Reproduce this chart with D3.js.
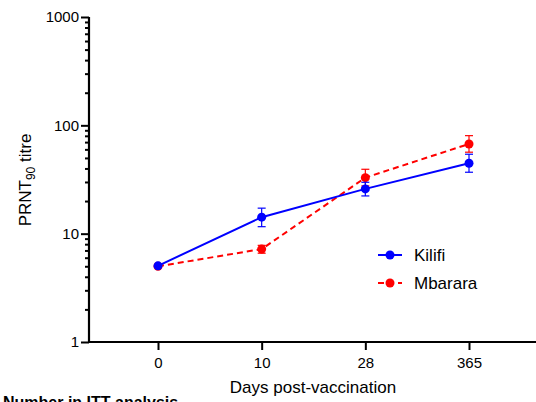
<!DOCTYPE html>
<html>
<head>
<meta charset="utf-8">
<script src="https://cdn.jsdelivr.net/npm/d3@7"></script>
<style>
  html, body { margin: 0; padding: 0; background: #fff; }
  svg { display: block; font-family: "Liberation Sans", Arial, sans-serif; }
</style>
</head>
<body>
<svg id="chart" width="536" height="402"></svg>
<script>
// Time points (days post-vaccination), drawn as evenly spaced categories
const days = ["0", "10", "28", "365"];

// Geometric mean PRNT90 titres with 95% CI bounds
const kilifiGMT   = [5.05, 14.2, 25.9, 44.7];
const kilifiLow   = [5.0, 11.6, 22.3, 36.9];
const kilifiHigh  = [5.1, 17.2, 29.8, 54.1];

const mbararaGMT  = [5.0, 7.2, 32.9, 67.3];
const mbararaLow  = [4.95, 6.6, 27.6, 56.5];
const mbararaHigh = [5.05, 7.8, 39.3, 80.3];

const yTicks = [1, 10, 100, 1000];

const series = [
  { name: "Kilifi",  color: "#0000ff", dash: null,  mean: kilifiGMT,  lo: kilifiLow,  hi: kilifiHigh },
  { name: "Mbarara", color: "#ff0000", dash: "6,4", mean: mbararaGMT, lo: mbararaLow, hi: mbararaHigh }
];

const svg = d3.select("#chart");
const plotLeft = 89, plotTop = 17, plotBottom = 342;

const x = d3.scalePoint().domain(days).range([158, 469]);
const y = d3.scaleLog().domain([1, 1000]).range([plotBottom, plotTop]);

// Y axis: major ticks at decades, minor ticks at 2..9
const minor = [];
for (let d = 1; d < 1000; d *= 10) for (let k = 2; k <= 9; k++) minor.push(d * k);

const yAxis = svg.append("g").attr("transform", `translate(${plotLeft},0)`);
yAxis.append("g")
  .call(d3.axisLeft(y).tickValues(minor).tickSize(4).tickFormat(""))
  .call(g => g.select(".domain").remove());
yAxis.append("g")
  .call(d3.axisLeft(y).tickValues(yTicks).tickSize(8).tickPadding(2).tickFormat(d3.format("d")))
  .call(g => g.select(".domain").attr("d", `M0,${plotTop}V${plotBottom}`));
yAxis.selectAll("line").attr("stroke", "#000").attr("stroke-width", 2);
yAxis.selectAll(".domain").attr("stroke", "#000").attr("stroke-width", 2.2);
yAxis.selectAll("text").attr("font-size", 15).attr("fill", "#000")
  .attr("font-family", "Liberation Sans, Arial, sans-serif");

// X axis
const xAxis = svg.append("g").attr("transform", `translate(0,${plotBottom})`)
  .call(d3.axisBottom(x).tickSize(8).tickPadding(7));
xAxis.select(".domain").attr("d", `M${plotLeft - 1},0H536`).attr("stroke", "#000").attr("stroke-width", 2.2);
xAxis.selectAll("line").attr("stroke", "#000").attr("stroke-width", 2);
xAxis.selectAll("text").attr("font-size", 15).attr("fill", "#000")
  .attr("font-family", "Liberation Sans, Arial, sans-serif");

// Axis titles
svg.append("text")
  .attr("x", 313).attr("y", 393)
  .attr("text-anchor", "middle").attr("font-size", 17).attr("fill", "#000")
  .text("Days post-vaccination");

const yl = svg.append("text")
  .attr("transform", "translate(31,180) rotate(-90)")
  .attr("text-anchor", "middle").attr("font-size", 17).attr("fill", "#000");
yl.append("tspan").text("PRNT");
yl.append("tspan").attr("font-size", 12).attr("dy", 4).text("90");
yl.append("tspan").attr("dy", -4).text(" titre");

// Lines, error bars and markers
const line = d3.line().x((d, i) => x(days[i])).y(d => y(d));
series.slice().reverse().forEach(s => {
  const g = svg.append("g");
  g.append("path")
    .attr("d", line(s.mean))
    .attr("fill", "none").attr("stroke", s.color).attr("stroke-width", 2)
    .attr("stroke-dasharray", s.dash);
  days.forEach((d, i) => {
    const cx = x(d);
    g.append("line").attr("x1", cx).attr("x2", cx)
      .attr("y1", y(s.lo[i])).attr("y2", y(s.hi[i]))
      .attr("stroke", s.color).attr("stroke-width", 1.2);
    [s.lo[i], s.hi[i]].forEach(v => {
      g.append("line").attr("x1", cx - 4).attr("x2", cx + 4)
        .attr("y1", y(v)).attr("y2", y(v))
        .attr("stroke", s.color).attr("stroke-width", 1.2);
    });
  });
  g.selectAll("circle").data(s.mean).join("circle")
    .attr("cx", (d, i) => x(days[i])).attr("cy", d => y(d))
    .attr("r", 4.5).attr("fill", s.color);
});

// Legend
series.forEach((s, i) => {
  const ly = 255 + i * 28;
  const g = svg.append("g");
  g.append("line").attr("x1", 378).attr("x2", 402).attr("y1", ly).attr("y2", ly)
    .attr("stroke", s.color).attr("stroke-width", 2).attr("stroke-dasharray", s.dash ? "6,4" : null);
  g.append("circle").attr("cx", 390).attr("cy", ly).attr("r", 4.5).attr("fill", s.color);
  g.append("text").attr("x", 414).attr("y", ly + 6).attr("font-size", 17).attr("fill", "#000").text(s.name);
});

// Table heading below the chart
svg.append("text")
  .attr("x", 3).attr("y", 408)
  .attr("font-size", 16).attr("font-weight", "bold").attr("fill", "#000")
  .text("Number in ITT analysis");
</script>
</body>
</html>
